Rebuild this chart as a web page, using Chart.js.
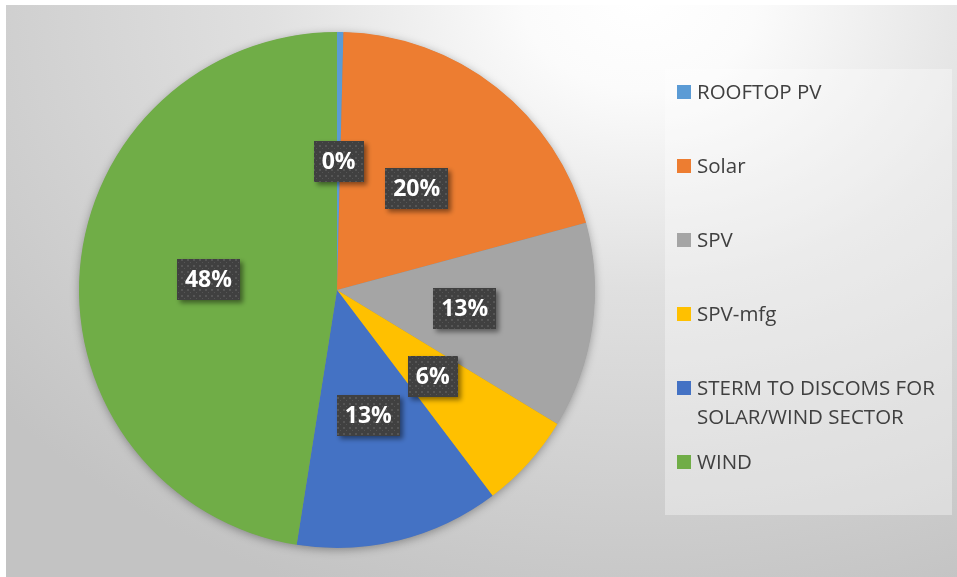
<!DOCTYPE html>
<html>
<head>
<meta charset="utf-8">
<script src="https://cdn.jsdelivr.net/npm/chart.js@4.4.1/dist/chart.umd.min.js"></script>
<style>
  html, body { margin: 0; padding: 0; background: #ffffff; }
  #wrap { position: relative; width: 957px; height: 577px; }
</style>
</head>
<body>
<div id="wrap"><canvas id="chart_sectorPie"></canvas></div>
<script>
// sector shares (percent)
var sectorLabels = ['ROOFTOP PV', 'Solar', 'SPV', 'SPV-mfg', 'STERM TO DISCOMS FOR SOLAR/WIND SECTOR', 'WIND'];
var sectorValues = [0.4, 20.4, 12.9, 6.0, 12.8, 47.5];
var sectorColors = ['#5B9BD5', '#ED7D31', '#A5A5A5', '#FFC000', '#4472C4', '#70AD47'];

var FONT = '"Open Sans", "Noto Sans", sans-serif';

// dark dotted fill used behind the data labels
function makeLabelPattern(ctx) {
    var c = document.createElement('canvas');
    c.width = 6; c.height = 6;
    var p = c.getContext('2d');
    p.fillStyle = '#404040';
    p.fillRect(0, 0, 6, 6);
    p.fillStyle = '#555555';
    p.fillRect(1, 1, 2, 2);
    p.fillRect(4, 4, 1, 1);
    return ctx.createPattern(c, 'repeat');
}

var backgroundPlugin = {
    id: 'backgroundPlugin',
    beforeDraw: function(chart) {
        var ctx = chart.ctx;
        ctx.save();
        ctx.fillStyle = '#ffffff';
        ctx.fillRect(0, 0, chart.width, chart.height);
        ctx.translate(640, 0);
        ctx.scale(1.3, 1);
        var g = ctx.createRadialGradient(0, 0, 0, 0, 0, 640);
        g.addColorStop(0, '#ffffff');
        g.addColorStop(0.14, '#fbfbfb');
        g.addColorStop(0.45, '#e0e0e0');
        g.addColorStop(1, '#c3c3c3');
        ctx.fillStyle = g;
        ctx.fillRect((6 - 640) / 1.3, 5, chart.width / 1.3, chart.height);
        ctx.restore();
    },
    beforeDatasetsDraw: function(chart) {
        // soft shadow under the whole pie
        var arc = chart.getDatasetMeta(0).data[0];
        if (!arc) return;
        var ctx = chart.ctx;
        ctx.save();
        ctx.shadowColor = 'rgba(0,0,0,0.35)';
        ctx.shadowBlur = 10;
        ctx.shadowOffsetX = 0;
        ctx.shadowOffsetY = 2;
        ctx.fillStyle = '#888888';
        ctx.beginPath();
        ctx.arc(arc.x, arc.y, arc.outerRadius - 0.5, 0, Math.PI * 2);
        ctx.fill();
        ctx.restore();
    }
};

var labelPlugin = {
    id: 'labelPlugin',
    afterDatasetsDraw: function(chart) {
        var ctx = chart.ctx;
        var meta = chart.getDatasetMeta(0);
        var total = sectorValues.reduce(function(a, b) { return a + b; }, 0);
        var pattern = makeLabelPattern(ctx);
        ctx.save();
        ctx.font = 'bold 23px ' + FONT;
        ctx.textAlign = 'center';
        ctx.textBaseline = 'middle';
        meta.data.forEach(function(arc, i) {
            var pt = arc.getCenterPoint();
            var txt = Math.round(sectorValues[i] / total * 100) + '%';
            var w = ctx.measureText(txt).width + 16;
            var h = 41;
            ctx.save();
            ctx.shadowColor = 'rgba(0,0,0,0.45)';
            ctx.shadowBlur = 5;
            ctx.shadowOffsetX = 3;
            ctx.shadowOffsetY = 3;
            ctx.fillStyle = pattern;
            ctx.fillRect(Math.round(pt.x - w / 2), Math.round(pt.y - h / 2), Math.round(w), h);
            ctx.restore();
            ctx.fillStyle = '#ffffff';
            ctx.fillText(txt, pt.x, pt.y + 1);
        });
        ctx.restore();
    }
};

var legendPlugin = {
    id: 'legendPlugin',
    afterDraw: function(chart) {
        var ctx = chart.ctx;
        ctx.save();
        ctx.fillStyle = 'rgba(255,255,255,0.35)';
        ctx.fillRect(665, 69, 287, 446);
        ctx.font = '20.5px ' + FONT;
        ctx.textBaseline = 'middle';
        ctx.textAlign = 'left';
        var maxW = 250;
        chart.data.labels.forEach(function(label, i) {
            var y = 92 + 74 * i;
            ctx.fillStyle = sectorColors[i];
            ctx.fillRect(677, y - 7, 14, 14);
            ctx.fillStyle = '#404040';
            var words = label.split(' ');
            var line = '';
            var lines = [];
            words.forEach(function(wd) {
                var test = line ? line + ' ' + wd : wd;
                if (ctx.measureText(test).width > maxW && line) {
                    lines.push(line);
                    line = wd;
                } else {
                    line = test;
                }
            });
            lines.push(line);
            lines.forEach(function(l, k) {
                ctx.fillText(l, 697, y + 1 + k * 29);
            });
        });
        ctx.restore();
    }
};

var chart_sectorPie = new Chart(document.getElementById('chart_sectorPie'), {
    type: 'pie',
    data: {
        labels: sectorLabels,
        datasets: [{
            data: sectorValues,
            backgroundColor: sectorColors,
            borderWidth: 0
        }]
    },
    options: {
        animation: false,
        responsive: true,
        maintainAspectRatio: false,
        layout: {
            padding: { left: 79, right: 362, top: 32, bottom: 29 }
        },
        plugins: {
            legend: { display: false },
            tooltip: { enabled: false }
        }
    },
    plugins: [backgroundPlugin, labelPlugin, legendPlugin]
});
</script>
</body>
</html>
